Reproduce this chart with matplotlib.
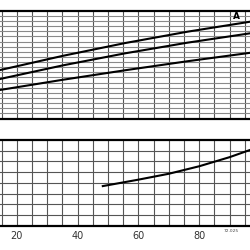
import matplotlib
matplotlib.use("Agg")
import matplotlib.pyplot as plt
import numpy as np

# Datos
x_sup = [14.5, 35.05, 55.6, 76.15, 96.7]
curva_1 = [47.2, 61.0, 73.5, 84.6, 94.3]
curva_2 = [38.5, 51.7, 63.5, 73.9, 83.0]
curva_3 = [27.8, 37.7, 47.0, 55.8, 64.0]

x_inf = [48.3, 60, 70, 80, 90, 96.7]
curva_inf = [3.7, 4.3, 4.85, 5.55, 6.4, 7.07]

etiquetas_x = [20, 40, 60, 80]

fig = plt.figure(figsize=(2.5, 2.5), dpi=100)
ax1 = fig.add_axes([0, 0.526, 1, 0.431])
ax2 = fig.add_axes([0, 0.097, 1, 0.343])

for ax in (ax1, ax2):
    ax.set_xlim(14.5, 96.7)
    ax.spines['left'].set_visible(False)
    ax.spines['right'].set_visible(False)
    ax.spines['top'].set_linewidth(1.6)
    ax.spines['bottom'].set_linewidth(1.6)
    ax.set_xticks(np.arange(15, 100, 5))
    ax.tick_params(length=0)
    ax.set_axisbelow(True)
    ax.grid(axis='x', color='#555555', lw=0.8)

# Panel superior
ax1.set_ylim(0, 105)
ax1.set_yticks(np.arange(5, 105, 5))
ax1.grid(axis='y', color='#8a8a8a', lw=0.8)
ax1.set_yticklabels([])
ax1.set_xticklabels([])
ax1.plot(x_sup, curva_1, color='black', lw=1.5)
ax1.plot(x_sup, curva_2, color='black', lw=1.5)
ax1.plot(x_sup, curva_3, color='black', lw=1.5)
ax1.text(92.3, 99.3, 'A', ha='center', va='center', fontsize=6.5,
         fontweight='bold')

# Panel inferior
ax2.set_ylim(0, 8)
ax2.set_yticks(np.arange(1, 8, 1))
ax2.grid(axis='y', color='#555555', lw=0.8)
ax2.set_yticklabels([])
ax2.set_xticklabels([str(int(v)) if v in etiquetas_x else ''
                     for v in np.arange(15, 100, 5)],
                    fontsize=7, color='#333333')
ax2.tick_params(axis='x', pad=3.5)
ax2.plot(x_inf, curva_inf, color='black', lw=1.5)
ax2.text(93.2, -0.5, '72.025', ha='right', va='center', fontsize=3.2,
         color='#444444')

fig.savefig('out.png', dpi=100)
